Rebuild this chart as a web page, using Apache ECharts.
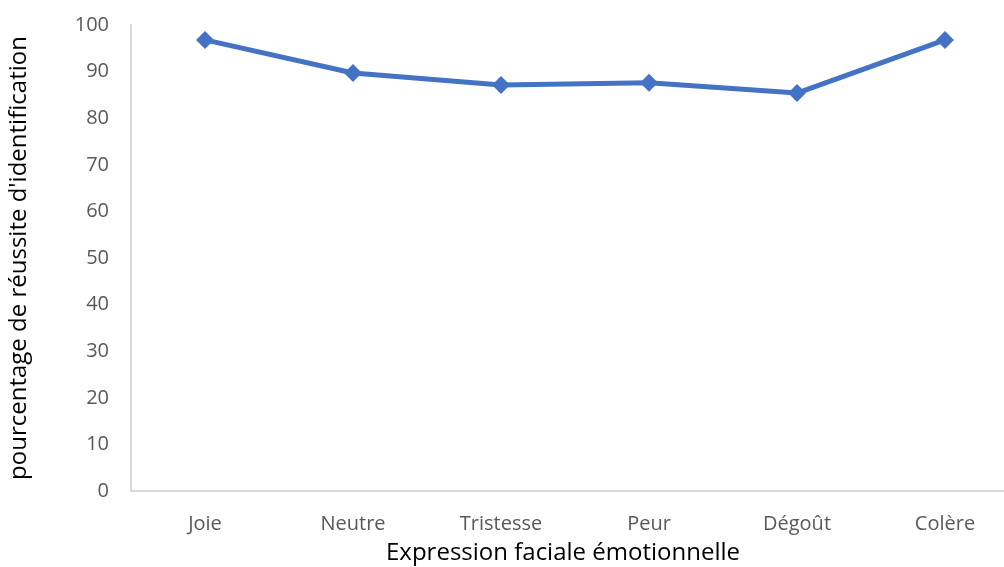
<!DOCTYPE html>
<html>
<head>
<meta charset="utf-8">
<script src="https://cdn.jsdelivr.net/npm/echarts@6/dist/echarts.min.js"></script>
<style>
  html, body { margin: 0; padding: 0; background: #fff; }
  #chart { width: 1004px; height: 567px; }
</style>
</head>
<body>
<div id="chart"></div>
<script>
const categories = ['Joie', 'Neutre', 'Tristesse', 'Peur', 'Dégoût', 'Colère']
const values = [96.8, 89.7, 87.1, 87.6, 85.4, 96.8]
const yTicks = [0, 10, 20, 30, 40, 50, 60, 70, 80, 90, 100]

const chart = echarts.init(document.getElementById('chart'))
const option = {
  animation: false,
  grid: {
    left: 131,
    top: 25,
    width: 888,
    height: 466,
    containLabel: false,
    outerBoundsMode: 'none'
  },
  xAxis: {
    type: 'category',
    data: categories,
    boundaryGap: true,
    name: 'Expression faciale émotionnelle',
    nameLocation: 'middle',
    nameGap: 50,
    nameTextStyle: {
      fontFamily: 'Open Sans',
      fontSize: 24,
      color: '#000',
      padding: [0, 24, 0, 0]
    },
    axisLine: { show: true, lineStyle: { color: '#d9d9d9', width: 2 } },
    axisTick: { show: false },
    axisLabel: {
      fontFamily: 'Open Sans',
      fontSize: 20,
      color: '#595959',
      margin: 23,
      interval: 0
    }
  },
  yAxis: {
    type: 'value',
    min: yTicks[0],
    max: yTicks[yTicks.length - 1],
    interval: 10,
    name: "pourcentage de réussite d'identification",
    nameLocation: 'middle',
    nameGap: 100,
    nameTextStyle: {
      fontFamily: 'Open Sans',
      fontSize: 24,
      color: '#000'
    },
    axisLine: { show: true, lineStyle: { color: '#d9d9d9', width: 2 } },
    axisTick: { show: false },
    splitLine: { show: false },
    axisLabel: {
      fontFamily: 'Open Sans',
      fontSize: 20,
      color: '#595959',
      margin: 22
    }
  },
  series: [
    {
      type: 'line',
      data: values,
      symbol: 'diamond',
      symbolSize: 18,
      lineStyle: { color: '#4472C4', width: 5 },
      itemStyle: { color: '#4472C4' }
    }
  ]
}
chart.setOption(option)
</script>
</body>
</html>
